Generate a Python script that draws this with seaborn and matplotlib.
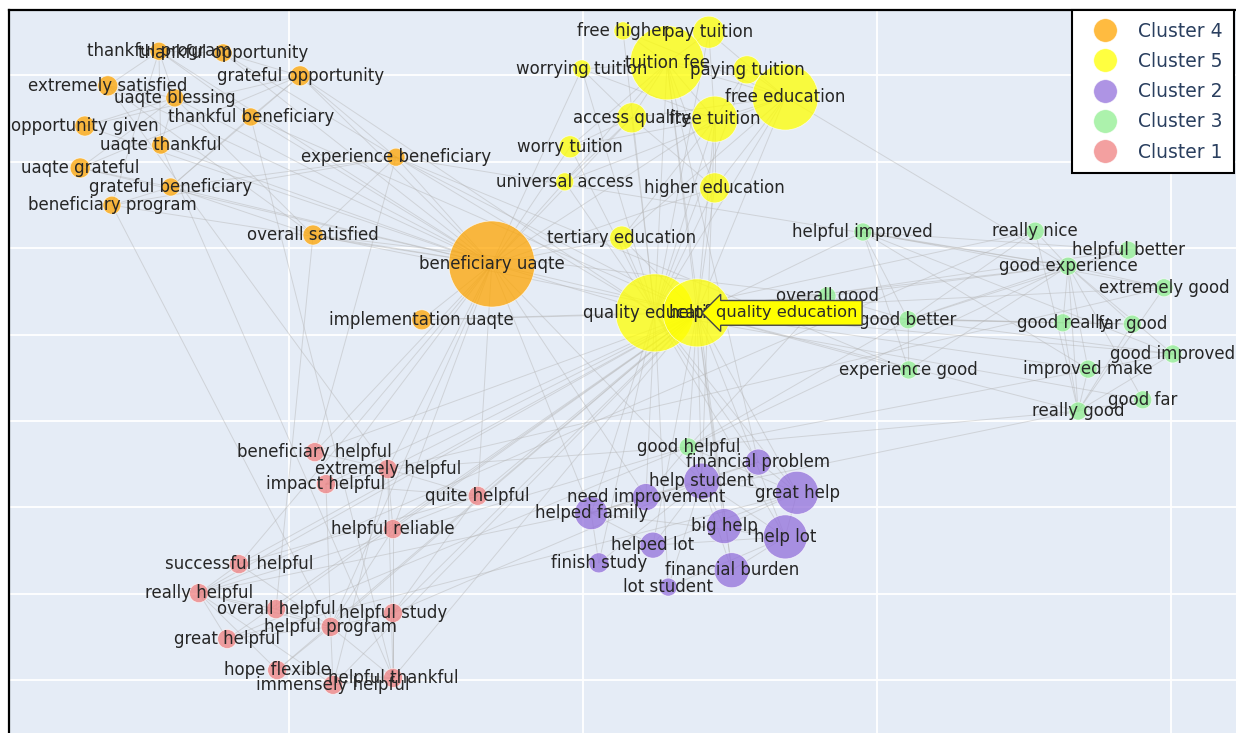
import matplotlib

matplotlib.use("Agg")
import matplotlib.pyplot as plt
import numpy as np
import pandas as pd
import seaborn as sns
from matplotlib.lines import Line2D

# --- bigram network: layout coordinates + term weight per cluster -----------
cluster4_terms = ["thankful program", "thankful opportunity", "grateful opportunity",
                  "extremely satisfied", "uaqte blessing", "thankful beneficiary",
                  "opportunity given", "uaqte thankful", "experience beneficiary",
                  "uaqte grateful", "grateful beneficiary", "beneficiary program",
                  "overall satisfied", "beneficiary uaqte", "implementation uaqte"]
cluster4_x = [-0.721, -0.612, -0.481, -0.808, -0.694, -0.565, -0.847, -0.718,
              -0.318, -0.855, -0.701, -0.801, -0.459, -0.155, -0.274]
cluster4_y = [0.855, 0.851, 0.798, 0.775, 0.747, 0.703, 0.682, 0.638,
              0.610, 0.585, 0.541, 0.499, 0.430, 0.363, 0.234]
cluster4_weight = [18, 18, 20, 20, 18, 18, 20, 18, 18, 20, 18, 18, 20, 86, 20]

cluster5_terms = ["free higher", "pay tuition", "tuition fee", "worrying tuition",
                  "paying tuition", "free education", "access quality", "free tuition",
                  "worry tuition", "universal access", "higher education",
                  "tertiary education", "quality education", "helpful"]
cluster5_x = [0.068, 0.214, 0.143, -0.002, 0.279, 0.344, 0.083, 0.224,
              -0.022, -0.031, 0.224, 0.066, 0.122, 0.194]
cluster5_y = [0.902, 0.899, 0.828, 0.814, 0.812, 0.749, 0.701, 0.698,
              0.634, 0.553, 0.539, 0.423, 0.250, 0.250]
cluster5_weight = [18, 32, 74, 18, 28, 66, 30, 46, 22, 18, 30, 24, 78, 68]

cluster2_terms = ["financial problem", "help student", "great help", "need improvement",
                  "helped family", "big help", "help lot", "helped lot", "finish study",
                  "financial burden", "lot student"]
cluster2_x = [0.298, 0.202, 0.364, 0.107, 0.014, 0.240, 0.344, 0.119, 0.027, 0.253, 0.145]
cluster2_y = [-0.095, -0.139, -0.166, -0.176, -0.213, -0.243, -0.268, -0.287,
              -0.328, -0.345, -0.384]
cluster2_weight = [26, 36, 43, 27, 33, 35, 44, 26, 20, 35, 18]

cluster3_terms = ["helpful improved", "really nice", "helpful better", "good experience",
                  "extremely good", "overall good", "good better", "good really",
                  "far good", "good improved", "experience good", "improved make",
                  "good far", "really good", "good helpful"]
cluster3_x = [0.476, 0.769, 0.927, 0.825, 0.988, 0.415, 0.553, 0.816,
              0.934, 1.003, 0.554, 0.859, 0.952, 0.842, 0.179]
cluster3_y = [0.437, 0.439, 0.395, 0.358, 0.308, 0.289, 0.234, 0.227,
              0.224, 0.155, 0.118, 0.120, 0.049, 0.023, -0.060]
cluster3_weight = [18] * 15

cluster1_terms = ["beneficiary helpful", "extremely helpful", "impact helpful",
                  "quite helpful", "helpful reliable", "successful helpful",
                  "really helpful", "overall helpful", "helpful study", "helpful program",
                  "great helpful", "hope flexible", "immensely helpful", "helpful thankful"]
cluster1_x = [-0.456, -0.332, -0.437, -0.179, -0.323, -0.585, -0.653, -0.522,
              -0.323, -0.429, -0.605, -0.520, -0.425, -0.323]
cluster1_y = [-0.072, -0.111, -0.146, -0.173, -0.250, -0.331, -0.398, -0.435,
              -0.444, -0.476, -0.504, -0.576, -0.610, -0.594]
cluster1_weight = [19] * 14

legend_order = ["Cluster 4", "Cluster 5", "Cluster 2", "Cluster 3", "Cluster 1"]

# co-occurrence edges: term -> neighbours
edges = {
    "beneficiary uaqte": ["thankful program", "thankful opportunity", "grateful opportunity",
                          "extremely satisfied", "uaqte blessing", "thankful beneficiary",
                          "opportunity given", "uaqte thankful", "experience beneficiary",
                          "uaqte grateful", "grateful beneficiary", "beneficiary program",
                          "overall satisfied", "implementation uaqte", "quality education",
                          "helpful", "tertiary education", "universal access", "worry tuition",
                          "worrying tuition", "access quality", "free tuition",
                          "higher education", "helped family", "need improvement",
                          "help student", "quite helpful", "beneficiary helpful",
                          "impact helpful", "extremely helpful", "helpful reliable",
                          "successful helpful", "helpful program"],
    "helpful": ["beneficiary helpful", "extremely helpful", "impact helpful", "quite helpful",
                "helpful reliable", "successful helpful", "really helpful", "overall helpful",
                "helpful study", "helpful program", "great helpful", "hope flexible",
                "immensely helpful", "helpful thankful", "helpful improved", "helpful better",
                "good helpful", "good better", "experience good", "overall good",
                "really good", "improved make", "good improved", "help student", "big help",
                "great help", "help lot", "helped lot", "financial burden",
                "quality education", "tertiary education", "higher education",
                "free tuition", "free education", "tuition fee", "thankful beneficiary",
                "experience beneficiary", "overall satisfied", "implementation uaqte"],
    "quality education": ["free higher", "pay tuition", "tuition fee", "worrying tuition",
                          "paying tuition", "free education", "access quality", "free tuition",
                          "worry tuition", "universal access", "higher education",
                          "tertiary education", "good experience", "really nice",
                          "extremely good", "good really", "far good", "good far",
                          "helped family", "need improvement", "finish study", "lot student",
                          "financial problem", "help lot", "great help",
                          "implementation uaqte", "grateful opportunity",
                          "thankful opportunity"],
    "tuition fee": ["free higher", "pay tuition", "worrying tuition", "paying tuition",
                    "free education", "access quality", "free tuition", "worry tuition",
                    "universal access", "higher education", "financial burden",
                    "financial problem"],
    "free education": ["free higher", "pay tuition", "paying tuition", "free tuition",
                       "higher education", "tertiary education", "access quality",
                       "universal access", "good experience"],
    "free tuition": ["pay tuition", "paying tuition", "worry tuition", "worrying tuition",
                     "higher education", "tertiary education", "help student"],
    "access quality": ["universal access", "worry tuition", "worrying tuition",
                       "higher education"],
    "thankful program": ["thankful opportunity", "uaqte thankful", "thankful beneficiary",
                         "beneficiary program", "extremely satisfied", "uaqte blessing"],
    "grateful opportunity": ["thankful opportunity", "opportunity given", "uaqte grateful",
                             "grateful beneficiary", "thankful beneficiary",
                             "experience beneficiary"],
    "uaqte blessing": ["uaqte thankful", "uaqte grateful", "extremely satisfied",
                       "opportunity given", "overall satisfied"],
    "grateful beneficiary": ["thankful beneficiary", "beneficiary program", "uaqte grateful",
                             "experience beneficiary", "overall satisfied"],
    "overall satisfied": ["extremely satisfied", "overall helpful", "overall good",
                          "experience beneficiary"],
    "experience beneficiary": ["experience good", "good experience", "beneficiary helpful",
                               "beneficiary program"],
    "good experience": ["really nice", "helpful better", "extremely good", "good really",
                        "far good", "good improved", "improved make", "good far",
                        "really good", "experience good", "good better", "overall good",
                        "helpful improved"],
    "really good": ["really nice", "good really", "far good", "good far", "improved make",
                    "good improved", "really helpful", "good helpful", "extremely good"],
    "good better": ["helpful better", "helpful improved", "overall good", "experience good",
                    "good improved", "far good", "really nice"],
    "helpful improved": ["good improved", "improved make", "helpful better",
                         "extremely good", "experience good"],
    "good helpful": ["help student", "need improvement", "great helpful", "really helpful",
                     "extremely helpful", "good experience", "good better", "overall good",
                     "great help", "good improved"],
    "help student": ["financial problem", "great help", "need improvement", "helped family",
                     "big help", "help lot", "helped lot", "finish study", "lot student",
                     "financial burden", "helpful study"],
    "great help": ["financial problem", "big help", "help lot", "helped lot", "great helpful"],
    "help lot": ["big help", "helped lot", "lot student", "financial burden", "helped family"],
    "helped family": ["need improvement", "helped lot", "finish study", "financial problem"],
    "helpful program": ["beneficiary program", "overall helpful", "helpful study",
                        "great helpful", "hope flexible", "immensely helpful",
                        "helpful thankful", "really helpful", "successful helpful",
                        "helpful reliable", "impact helpful"],
    "extremely helpful": ["beneficiary helpful", "impact helpful", "quite helpful",
                          "helpful reliable", "immensely helpful", "helpful thankful",
                          "extremely satisfied", "extremely good"],
    "really helpful": ["successful helpful", "great helpful", "overall helpful",
                       "hope flexible", "immensely helpful", "really nice"],
    "helpful thankful": ["uaqte thankful", "thankful beneficiary", "helpful study",
                         "immensely helpful", "hope flexible", "helpful reliable"],
    "quite helpful": ["helpful reliable", "impact helpful", "helpful study",
                      "successful helpful"],
}

# ---------------------------------------------------------------- styling
PALETTE = {
    "Cluster 4": "#FFA500",
    "Cluster 5": "#FFFF00",
    "Cluster 2": "#9370DB",
    "Cluster 3": "#90EE90",
    "Cluster 1": "#F08080",
}
NODE_ALPHA = 0.75
PX_TO_PT = 0.72  # dpi 100

frames = []
for name, terms, xs, ys, ws in [
    ("Cluster 4", cluster4_terms, cluster4_x, cluster4_y, cluster4_weight),
    ("Cluster 5", cluster5_terms, cluster5_x, cluster5_y, cluster5_weight),
    ("Cluster 2", cluster2_terms, cluster2_x, cluster2_y, cluster2_weight),
    ("Cluster 3", cluster3_terms, cluster3_x, cluster3_y, cluster3_weight),
    ("Cluster 1", cluster1_terms, cluster1_x, cluster1_y, cluster1_weight),
]:
    frames.append(pd.DataFrame({"term": terms, "x": xs, "y": ys,
                                "weight": ws, "cluster": name}))
nodes = pd.concat(frames, ignore_index=True)
nodes["area"] = nodes["weight"] ** 2
pos = nodes.set_index("term")[["x", "y"]]

seen, rows = set(), []
for src, dsts in edges.items():
    for dst in dsts:
        key = frozenset((src, dst))
        if key in seen or src == dst:
            continue
        seen.add(key)
        eid = len(seen)
        rows.append((eid, pos.loc[src, "x"], pos.loc[src, "y"]))
        rows.append((eid, pos.loc[dst, "x"], pos.loc[dst, "y"]))
edge_df = pd.DataFrame(rows, columns=["edge", "x", "y"])

sns.set_style("darkgrid", {"axes.facecolor": "#E5ECF6", "grid.color": "white"})
plt.rcParams["font.family"] = ["DejaVu Sans"]

fig = plt.figure(figsize=(12.36, 7.33), dpi=100)
ax = fig.add_axes([9 / 1236, 0, 1 - 9 / 1236, 1 - 10 / 733])

sns.lineplot(data=edge_df, x="x", y="y", units="edge", estimator=None, sort=False,
             color="#b4b4b4", lw=0.7, alpha=0.45, legend=False, ax=ax, zorder=2)

amin, amax = nodes["area"].min(), nodes["area"].max()
sns.scatterplot(data=nodes, x="x", y="y", hue="cluster", palette=PALETTE,
                size="area", size_norm=(amin, amax),
                sizes=(PX_TO_PT ** 2 * amin, PX_TO_PT ** 2 * amax),
                alpha=NODE_ALPHA, edgecolor="white", linewidth=0.5,
                legend=False, ax=ax, zorder=3)

for _, r in nodes.iterrows():
    ax.text(r["x"], r["y"], r["term"], ha="center", va="center",
            fontsize=12, color="#262626", zorder=4)

# hover label left on the screenshot
ax.annotate("quality education", xy=(0.226, 0.250), ha="left", va="center",
            fontsize=11.7, color="#2b2b2b", zorder=5,
            bbox=dict(boxstyle="larrow,pad=0.3", fc="#FFFF00", ec="#444444", lw=1))

ax.set_xlim(-0.976, 1.1105)
ax.set_ylim(-0.7214, 0.9503)
ax.set_xticks([-0.5, 0, 0.5, 1.0])
ax.set_yticks(np.round(np.arange(-0.6, 0.81, 0.2), 1))
ax.set_xticklabels([])
ax.set_yticklabels([])
ax.tick_params(length=0)
ax.set_xlabel("")
ax.set_ylabel("")
ax.grid(True, color="white", lw=1.3)
ax.set_axisbelow(True)
for side in ("right", "bottom"):
    ax.spines[side].set_visible(False)
for side in ("left", "top"):
    ax.spines[side].set_visible(True)
    ax.spines[side].set_color("black")
    ax.spines[side].set_linewidth(1.6)

handles = [Line2D([], [], ls="", marker="o", markersize=17, alpha=NODE_ALPHA,
                  markerfacecolor=PALETTE[c], markeredgecolor="white",
                  markeredgewidth=0.5, label=c) for c in legend_order]
leg = ax.legend(handles=handles, loc="upper right", bbox_to_anchor=(0.9985, 1.0),
                borderaxespad=0, frameon=True, fancybox=False, fontsize=13.5,
                labelcolor="#2a3f5f", labelspacing=0.6, handletextpad=0.6,
                borderpad=0.62, handlelength=2.3)
leg.get_frame().set_edgecolor("black")
leg.get_frame().set_linewidth(1.5)
leg.get_frame().set_facecolor("white")
leg.get_frame().set_alpha(1)
leg.set_zorder(6)

fig.savefig("out.png", dpi=100)
